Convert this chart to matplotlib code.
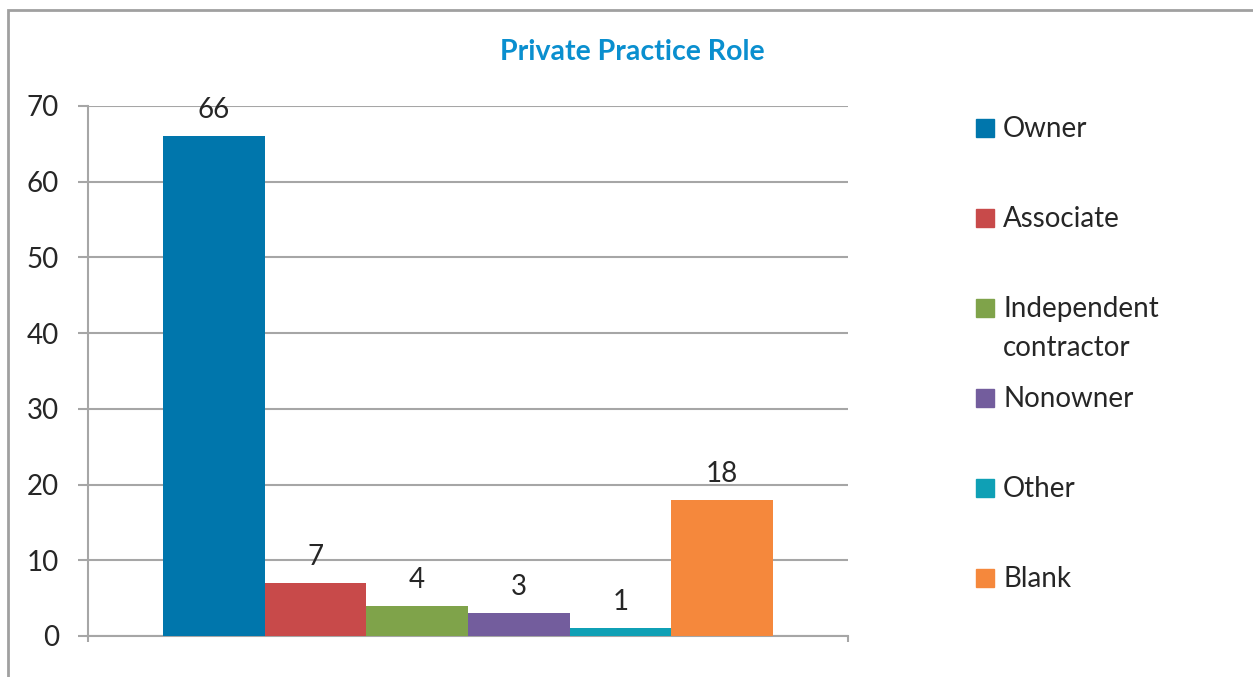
import matplotlib.pyplot as plt
from matplotlib.patches import Rectangle

roles = ["Owner", "Associate", "Independent\ncontractor", "Nonowner", "Other", "Blank"]
counts = [66, 7, 4, 3, 1, 18]
colors = ["#0076AC", "#C84A4A", "#7FA34A", "#735D9D", "#0FA0B5", "#F5883C"]
yticks = [0, 10, 20, 30, 40, 50, 60, 70]

W, H = 1253, 677
plt.rcParams["font.family"] = ["Lato", "DejaVu Sans"]
FS = 20

fig = plt.figure(figsize=(W / 100, H / 100), dpi=100)
ax = fig.add_axes([88 / W, 1 - 636 / H, (848 - 88) / W, (636 - 106) / H])

# one cluster of six touching bars
bar_w = 0.8026 / len(counts)
start = -bar_w * len(counts) / 2 + bar_w / 2
for i, (v, c) in enumerate(zip(counts, colors)):
    x = start + i * bar_w
    ax.bar(x, v, width=bar_w, color=c, zorder=3)
    ax.annotate(str(v), (x, v), xytext=(0, 13), textcoords="offset points",
                ha="center", va="baseline", fontsize=FS, color="#262626")

ax.set_xlim(-0.5, 0.5)
ax.set_ylim(0, 70)
ax.set_yticks(yticks)
ax.set_xticks([-0.5, 0.5])
ax.set_xticklabels([])
ax.grid(axis="y", color="#A6A6A6", linewidth=1.5, zorder=0)
ax.tick_params(axis="y", length=7, width=1.5, color="#A6A6A6", pad=14,
               labelsize=FS, labelcolor="#262626")
ax.tick_params(axis="x", length=4, width=1.5, color="#A6A6A6")
for s in ["top", "right"]:
    ax.spines[s].set_visible(False)
for s in ["left", "bottom"]:
    ax.spines[s].set_color("#A6A6A6")
    ax.spines[s].set_linewidth(1.5)

fig.text(632 / W, 1 - 60 / H, "Private Practice Role", ha="center", va="baseline",
         fontsize=20.5, fontweight="bold", color="#0A8FCF")

# legend drawn down the right side, wrapped labels continue below the first line
for i, (lab, c) in enumerate(zip(roles, colors)):
    base = 137 + 90 * i
    fig.patches.append(Rectangle((976 / W, 1 - base / H), 18 / W, 18 / H,
                                 transform=fig.transFigure, color=c))
    for j, line in enumerate(lab.split("\n")):
        fig.text(1003 / W, 1 - (base + 39 * j) / H, line, ha="left", va="baseline",
                 fontsize=FS, color="#262626")

# chart area border (only top and left edges fall inside the image)
fig.patches.append(Rectangle((8 / W, -0.2), 2, 1.2 - 10 / H, transform=fig.transFigure,
                             fill=False, edgecolor="#A0A0A0", linewidth=2))

fig.savefig("out.png", dpi=100)
